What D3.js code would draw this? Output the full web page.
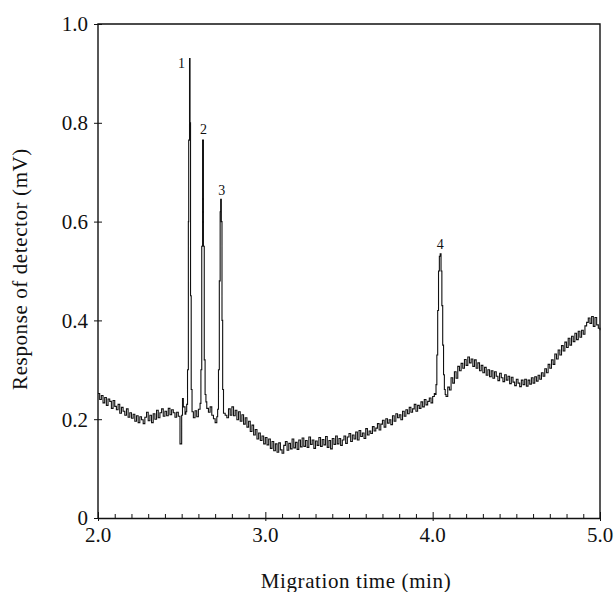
<!DOCTYPE html>
<html><head><meta charset="utf-8">
<script src="https://cdn.jsdelivr.net/npm/d3@7"></script>
<style>body{margin:0;background:#fff}svg{display:block}text{font-family:"Liberation Serif","Times New Roman",serif;fill:#111}</style>
</head><body><svg id="c" width="615" height="592"></svg>
<script>
// Migration time (min) and detector response (mV)
const times = [
2.00,2.01,2.02,2.03,2.04,2.05,2.06,2.07,2.08,2.09,2.10,2.11,2.12,2.13,2.14,2.15,2.16,2.17,2.18,2.19,
2.20,2.21,2.22,2.23,2.24,2.25,2.26,2.27,2.28,2.29,2.30,2.31,2.32,2.33,2.34,2.35,2.36,2.37,2.38,2.39,
2.40,2.41,2.42,2.43,2.44,2.45,2.46,2.47,2.48,2.49,2.50,2.505,2.51,2.52,2.525,2.530,2.535,2.540,2.542,2.545,
2.547,2.550,2.553,2.557,2.562,2.57,2.58,2.59,2.60,2.61,2.615,2.620,2.625,2.630,2.635,2.640,2.645,2.65,2.66,2.67,
2.68,2.69,2.70,2.71,2.715,2.720,2.725,2.730,2.733,2.737,2.741,2.745,2.75,2.76,2.77,2.78,2.79,2.80,2.81,2.82,
2.83,2.84,2.85,2.86,2.87,2.88,2.89,2.90,2.91,2.92,2.93,2.94,2.95,2.96,2.97,2.98,2.99,3.00,3.01,3.02,
3.03,3.04,3.05,3.06,3.07,3.08,3.09,3.10,3.11,3.12,3.13,3.14,3.15,3.16,3.17,3.18,3.19,3.20,3.21,3.22,
3.23,3.24,3.25,3.26,3.27,3.28,3.29,3.30,3.31,3.32,3.33,3.34,3.35,3.36,3.37,3.38,3.39,3.40,3.41,3.42,
3.43,3.44,3.45,3.46,3.47,3.48,3.49,3.50,3.51,3.52,3.53,3.54,3.55,3.56,3.57,3.58,3.59,3.60,3.61,3.62,
3.63,3.64,3.65,3.66,3.67,3.68,3.69,3.70,3.71,3.72,3.73,3.74,3.75,3.76,3.77,3.78,3.79,3.80,3.81,3.82,
3.83,3.84,3.85,3.86,3.87,3.88,3.89,3.90,3.91,3.92,3.93,3.94,3.95,3.96,3.97,3.98,3.99,4.00,4.01,4.015,
4.020,4.025,4.030,4.035,4.040,4.045,4.050,4.055,4.060,4.065,4.070,4.075,4.08,4.09,4.10,4.11,4.12,4.13,4.14,4.15,
4.16,4.17,4.18,4.19,4.20,4.21,4.22,4.23,4.24,4.25,4.26,4.27,4.28,4.29,4.30,4.31,4.32,4.33,4.34,4.35,
4.36,4.37,4.38,4.39,4.40,4.41,4.42,4.43,4.44,4.45,4.46,4.47,4.48,4.49,4.50,4.51,4.52,4.53,4.54,4.55,
4.56,4.57,4.58,4.59,4.60,4.61,4.62,4.63,4.64,4.65,4.66,4.67,4.68,4.69,4.70,4.71,4.72,4.73,4.74,4.75,
4.76,4.77,4.78,4.79,4.80,4.81,4.82,4.83,4.84,4.85,4.86,4.87,4.88,4.89,4.90,4.91,4.92,4.93,4.94,4.95,
4.96,4.97,4.98,4.99,5.00];
const response = [
0.252,0.240,0.248,0.233,0.244,0.228,0.241,0.236,0.222,0.238,0.226,0.219,0.230,0.212,0.224,0.216,0.208,0.221,0.204,0.213,
0.202,0.210,0.196,0.207,0.193,0.205,0.199,0.191,0.204,0.214,0.197,0.208,0.193,0.211,0.200,0.218,0.203,0.213,0.221,0.206,
0.216,0.207,0.222,0.209,0.219,0.213,0.204,0.214,0.206,0.150,0.208,0.242,0.225,0.210,0.215,0.230,0.300,0.600,0.765,0.765,
0.930,0.800,0.450,0.260,0.215,0.203,0.217,0.205,0.220,0.232,0.300,0.550,0.765,0.550,0.320,0.250,0.235,0.222,0.214,0.225,
0.208,0.201,0.193,0.205,0.220,0.300,0.480,0.620,0.645,0.600,0.400,0.260,0.212,0.208,0.203,0.221,0.208,0.225,0.207,0.218,
0.199,0.215,0.196,0.209,0.190,0.203,0.184,0.196,0.175,0.188,0.168,0.179,0.160,0.172,0.157,0.166,0.150,0.163,0.148,0.160,
0.141,0.155,0.136,0.150,0.133,0.152,0.138,0.131,0.147,0.155,0.137,0.151,0.140,0.160,0.142,0.153,0.139,0.158,0.144,0.162,
0.145,0.157,0.143,0.164,0.149,0.158,0.141,0.156,0.147,0.163,0.145,0.159,0.148,0.165,0.143,0.157,0.140,0.161,0.149,0.166,
0.150,0.161,0.147,0.158,0.166,0.151,0.164,0.171,0.155,0.168,0.160,0.174,0.158,0.177,0.165,0.172,0.161,0.181,0.168,0.176,
0.171,0.185,0.176,0.182,0.191,0.178,0.190,0.198,0.184,0.201,0.192,0.199,0.189,0.207,0.196,0.211,0.203,0.209,0.199,0.216,
0.206,0.219,0.211,0.224,0.214,0.221,0.230,0.216,0.228,0.222,0.235,0.225,0.240,0.229,0.236,0.243,0.233,0.246,0.252,0.250,
0.270,0.330,0.420,0.500,0.530,0.535,0.500,0.430,0.350,0.290,0.260,0.250,0.246,0.265,0.259,0.284,0.273,0.296,0.283,0.307,
0.298,0.313,0.303,0.321,0.309,0.326,0.314,0.322,0.307,0.320,0.303,0.314,0.298,0.309,0.294,0.305,0.289,0.300,0.286,0.298,
0.283,0.296,0.287,0.278,0.293,0.284,0.276,0.290,0.279,0.287,0.272,0.285,0.275,0.268,0.281,0.273,0.266,0.279,0.270,0.281,
0.267,0.279,0.271,0.284,0.273,0.286,0.277,0.289,0.281,0.294,0.287,0.302,0.294,0.311,0.303,0.320,0.311,0.332,0.322,0.340,
0.330,0.349,0.338,0.356,0.345,0.364,0.350,0.368,0.357,0.374,0.361,0.378,0.366,0.380,0.372,0.389,0.396,0.405,0.394,0.408,
0.388,0.406,0.391,0.384,0.380];
const peakLabels = ["1","2","3","4"];
const peakTimes = [2.547,2.625,2.733,4.045];
const peakValues = [0.930,0.765,0.645,0.535];
const xTickLabels = ["2.0","3.0","4.0","5.0"];
const yTickLabels = ["0","0.2","0.4","0.6","0.8","1.0"];

const svg = d3.select("#c");
const L = 98, R = 600, T = 24, B = 518;
const x = d3.scaleLinear().domain([2, 5]).range([L, R]);
const y = d3.scaleLinear().domain([0, 1]).range([B, T]);

const data = times.map((t, i) => [t, response[i]]);
svg.append("path").datum(data)
  .attr("fill", "none").attr("stroke", "#111").attr("stroke-width", 1.1)
  .attr("d", d3.line().x(d => x(d[0])).y(d => y(d[1])).curve(d3.curveStepAfter));

// frame
svg.append("path").attr("fill", "none").attr("stroke", "#111").attr("stroke-width", 1.4)
  .attr("d", `M${L},${B}V${T}H${R}V${B}`);

// bottom axis with minor ticks
const xAxis = d3.axisBottom(x).tickValues(d3.range(2, 5.001, 0.1)).tickSize(0).tickFormat("");
const gx = svg.append("g").attr("transform", `translate(0,${B})`).call(xAxis);
gx.select(".domain").attr("stroke", "#111").attr("stroke-width", 1.4);
gx.selectAll(".tick line").attr("y1", 0).attr("y2", d => (Math.abs(d - Math.round(d)) < 1e-6 ? -6 : -4)).attr("stroke", "#111");
gx.selectAll(".tick").filter(d => Math.abs(d - Math.round(d)) < 1e-6).append("line").attr("y1", 0).attr("y2", 3).attr("stroke", "#111");
svg.append("g").selectAll("text").data(xTickLabels).join("text")
  .attr("x", d => x(+d)).attr("y", 542).attr("text-anchor", "middle").attr("font-size", 21).text(d => d);

// left axis
const yAxis = d3.axisLeft(y).tickValues([0, 0.2, 0.4, 0.6, 0.8, 1.0]).tickSize(4).tickFormat("");
const gy = svg.append("g").attr("transform", `translate(${L},0)`).call(yAxis);
gy.select(".domain").remove();
gy.selectAll(".tick line").attr("x1", -4).attr("x2", 4).attr("stroke", "#111");
svg.append("g").selectAll("text").data(yTickLabels).join("text")
  .attr("x", 88).attr("y", d => y(+d)).attr("dy", "0.35em").attr("text-anchor", "end").attr("font-size", 21).text(d => d);

// peak labels
const offs = [[-8, 9], [1, -6], [1, -4], [0, -5]];
svg.append("g").selectAll("text").data(peakLabels).join("text")
  .attr("x", (d, i) => x(peakTimes[i]) + offs[i][0]).attr("y", (d, i) => y(peakValues[i]) + offs[i][1])
  .attr("text-anchor", "middle").attr("font-size", 14).text(d => d);

svg.append("text").attr("x", 356).attr("y", 588).attr("text-anchor", "middle").attr("font-size", 21).attr("letter-spacing", 0.6).text("Migration time (min)");
svg.append("text").attr("transform", "translate(27,269) rotate(-90)").attr("text-anchor", "middle").attr("font-size", 21).attr("letter-spacing", 0.6).text("Response of detector (mV)");
</script></body></html>
